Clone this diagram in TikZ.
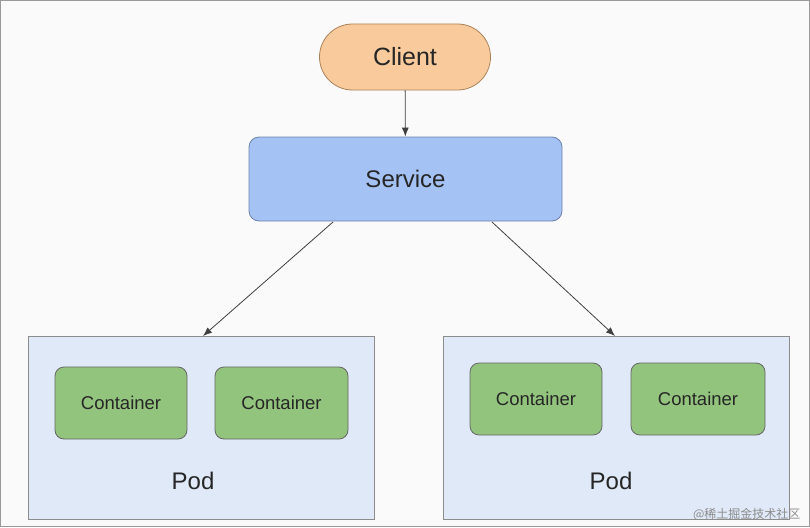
\documentclass[tikz,border=0pt]{standalone}
\usepackage{fontspec}
\setmainfont{Liberation Sans}
\newfontfamily\cjk{Noto Sans CJK SC}
\begin{document}
\begin{tikzpicture}[x=1pt,y=-1pt,
  cont/.style={draw=black!60,fill={rgb,255:red,147;green,196;blue,125},line width=0.8pt,rounded corners=9pt,font=\fontsize{18.5}{22}\selectfont,text=black!85},
  arr/.style={-{Latex[length=9pt,width=7pt]},draw=black!75,line width=0.8pt}]
\usetikzlibrary{arrows.meta}
\definecolor{bg}{RGB}{250,250,250}
\useasboundingbox (0,0) rectangle (810,527);
\draw[fill=bg,draw=black!40] (0.5,0.5) rectangle (809.5,526.5);
\node[draw={rgb,255:red,170;green,130;blue,90},fill={rgb,255:red,249;green,203;blue,156},line width=0.8pt,rounded corners=33pt,minimum width=171pt,minimum height=66pt,font=\fontsize{25}{28}\selectfont,text=black!85] (client) at (405,57) {Client};
\node[draw={rgb,255:red,110;green,130;blue,170},fill={rgb,255:red,164;green,194;blue,244},line width=0.8pt,rounded corners=10pt,minimum width=313pt,minimum height=84pt,font=\fontsize{24}{28}\selectfont,text=black!85] (service) at (405.5,179) {Service};
\node[draw=black!45,fill={rgb,255:red,223;green,233;blue,247},line width=0.8pt,minimum width=346pt,minimum height=183pt] (podL) at (201,427.5) {};
\node[draw=black!45,fill={rgb,255:red,223;green,233;blue,247},line width=0.8pt,minimum width=346pt,minimum height=183pt] (podR) at (616,427.5) {};
\node[font=\fontsize{24}{28}\selectfont,text=black!85] (pl) at (193,481) {Pod};
\node[font=\fontsize{24}{28}\selectfont,text=black!85] (pr) at (611,481) {Pod};
\node[cont,minimum width=132pt,minimum height=72pt] (c1) at (121,403) {Container};
\node[cont,minimum width=133pt,minimum height=72pt] (c2) at (281.5,403) {Container};
\node[cont,minimum width=132pt,minimum height=72pt] (c3) at (536,399) {Container};
\node[cont,minimum width=134pt,minimum height=72pt] (c4) at (698,399) {Container};
\draw[arr] (client) -- (service);
\coordinate (s1) at (333,222); \coordinate (s2) at (492,222);
\coordinate (p1) at (203,336); \coordinate (p2) at (615,336);
\draw[arr] (s1) -- (p1);
\draw[arr] (s2) -- (p2);
\node[text=black!45,font=\cjk\fontsize{12}{14}\selectfont,anchor=east] (wm) at (804,514) {@稀土掘金技术社区};
\end{tikzpicture}
\end{document}
